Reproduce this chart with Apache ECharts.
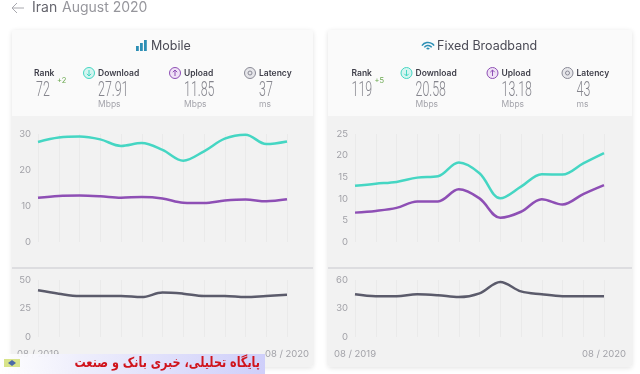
<!DOCTYPE html>
<html>
<head>
<meta charset="utf-8">
<style>html,body{margin:0;padding:0;background:#fff}#chart{width:640px;height:374px}</style>
<script src="https://cdn.jsdelivr.net/npm/echarts@6/dist/echarts.min.js"></script>
</head>
<body>
<div id="chart"></div>
<script>
// tick labels, only first and last month are printed
const months = ['08 / 2019','','','','','','','','','','','','08 / 2020'];

const mobileDownload = [27.8,29,29.3,28.5,26.7,27.5,25.6,22.6,25.2,28.7,29.8,27.2,27.91];
const mobileUpload = [12.3,12.8,12.9,12.7,12.3,12.5,12.1,10.9,10.8,11.5,11.8,11.3,11.85];
const mobileLatency = [41,38,36,36,36,35,39,38,36,36,35,36,37];

const fixedDownload = [13,13.5,13.9,14.9,15.2,18.4,15.9,10.1,12.8,15.7,15.6,18.2,20.58];
const fixedUpload = [6.8,7.2,7.9,9.4,9.4,12.2,10.1,5.6,7,9.9,8.7,11.1,13.18];
const fixedLatency = [45,43,43,45,44,42,46,58,48,45,43,43,43];

const mobileStats = ['72','27.91','11.85','37'];
const fixedStats = ['119','20.58','13.18','43'];
const statNames = ['Rank','Download','Upload','Latency'];
const statUnits = ['','Mbps','Mbps','ms'];

const TEAL = '#45d6c3', PURPLE = '#8e4fb5', SLATE = '#5b5b6b';
const FONT = 'Inter, Lato, sans-serif';

const myChart = echarts.init(document.getElementById('chart'));

function txt(x, y, text, size, fill, extra, props) {
    return Object.assign({ type: 'text', x: x, y: y, style: Object.assign({
        text: text, fontSize: size, fill: fill, fontFamily: FONT,
        textAlign: 'left', textVerticalAlign: 'middle'
    }, extra || {}) }, props || {});
}

function statIcon(x, y, color, kind) {
    const out = [{ type: 'circle', shape: { cx: x, cy: y, r: 5.5 },
        style: { fill: kind === 'down' ? '#d4f5f0' : kind === 'up' ? '#f0e2f6' : '#e6e6ea', stroke: color, lineWidth: 1 } }];
    if (kind === 'lat') {
        out.push({ type: 'circle', shape: { cx: x, cy: y, r: 2 }, style: { fill: 'none', stroke: color, lineWidth: 1 } });
    } else {
        const d = kind === 'down' ? 1 : -1;
        out.push({ type: 'polyline', shape: { points: [[x, y - 3 * d], [x, y + 3 * d]] }, style: { stroke: color, fill: 'none', lineWidth: 1 } });
        out.push({ type: 'polyline', shape: { points: [[x - 2.2, y + 0.8 * d], [x, y + 3 * d], [x + 2.2, y + 0.8 * d]] }, style: { stroke: color, fill: 'none', lineWidth: 1 } });
    }
    return out;
}

function panel(x0, width, title, stats, delta, isMobile) {
    const g = [];
    // card
    g.push({ type: 'rect', z: -10, shape: { x: x0, y: 30, width: width, height: 337, r: 3 },
        style: { fill: '#fafafa', shadowBlur: 5, shadowColor: 'rgba(0,0,0,0.12)', shadowOffsetY: 1 } });
    g.push({ type: 'rect', z: -9, shape: { x: x0, y: 116, width: width, height: 251, r: [0, 0, 3, 3] }, style: { fill: '#f2f2f2' } });
    g.push({ type: 'line', z: -8, shape: { x1: x0, y1: 268, x2: x0 + width, y2: 268 }, style: { stroke: '#c8c8ce', lineWidth: 1 } });

    // title with its little icon
    if (isMobile) {
        [[136, 5], [140, 8], [144, 11]].forEach(b => {
            g.push({ type: 'rect', shape: { x: b[0], y: 51 - b[1], width: 2.8, height: b[1] }, style: { fill: '#2d8fb5' } });
        });
        g.push(txt(151, 46, title, 12.5, '#4a4a55'));
    } else {
        const cx = 428;
        [7.5, 4.5, 1.5].forEach(r => {
            g.push({ type: 'arc', shape: { cx: cx, cy: 50, r: r, startAngle: -Math.PI * 0.8, endAngle: -Math.PI * 0.2 },
                style: { stroke: '#2d8fb5', fill: 'none', lineWidth: 1.5 } });
        });
        g.push(txt(437, 46, title, 12.5, '#4a4a55'));
    }

    // stats row
    const off = isMobile ? 0 : 317.5;
    const colX = [34, 98, 184, 259];
    const numX = [36, 98, 184, 259];
    const kinds = [null, 'down', 'up', 'lat'];
    const iconCol = [null, '#45d6c3', '#8e4fb5', '#8a8a96'];
    statNames.forEach((name, i) => {
        g.push(txt(off + colX[i], 73, name, 8.5, '#3f3f4a', { fontWeight: 600 }));
        if (kinds[i]) {
            statIcon(off + colX[i] - 9, 73, iconCol[i], kinds[i]).forEach(o => g.push(o));
        }
        g.push(txt(off + numX[i] - (isMobile || i ? 0 : 2), 91, stats[i], 20, '#85858d',
            { fontFamily: 'Roboto, sans-serif', fontWeight: 300 }, { scaleX: 0.62 }));
        if (statUnits[i]) {
            g.push(txt(off + numX[i], 104, statUnits[i], 8.5, '#a5a5ac'));
        }
    });
    g.push(txt(off + 57, 81, delta, 7.5, '#6aa84f'));
    return g;
}

function grid(left, top, height) {
    return { left: left, top: top, width: 249, height: height, containLabel: false };
}

function xAxis(gridIndex, showLabels) {
    return {
        type: 'category', gridIndex: gridIndex, data: months, boundaryGap: false,
        axisLine: { show: false }, axisTick: { show: false },
        splitLine: { show: true, lineStyle: { color: '#eaeaea', width: 1 } },
        axisLabel: { show: showLabels, interval: 0, color: '#a2a2a8', fontSize: 9.5, fontFamily: FONT, margin: 12, hideOverlap: false }
    };
}

function yAxis(gridIndex, max, interval) {
    return {
        type: 'value', gridIndex: gridIndex, min: 0, max: max, interval: interval,
        axisLine: { show: false }, axisTick: { show: false }, splitLine: { show: false },
        axisLabel: { color: '#a2a2a8', fontSize: 9.5, fontFamily: FONT, margin: 7 }
    };
}

function line(gridIndex, data, color) {
    return {
        type: 'line', xAxisIndex: gridIndex, yAxisIndex: gridIndex, data: data,
        smooth: 0.35, symbol: 'none', lineStyle: { color: color, width: 2.5 }, silent: true
    };
}

const headerAndWatermark = [
    { type: 'polyline', shape: { points: [[12, 8], [24, 8]] }, style: { stroke: '#a8a8ae', fill: 'none', lineWidth: 1 } },
    { type: 'polyline', shape: { points: [[17, 3], [12, 8], [17, 13]] }, style: { stroke: '#a8a8ae', fill: 'none', lineWidth: 1 } },
    txt(32, 8, 'Iran', 14, '#66666e'),
    txt(62, 8, 'August 2020', 14, '#96969c'),
    // watermark band along the bottom
    { type: 'rect', z: 20, shape: { x: 0, y: 354, width: 265, height: 20 },
        style: { fill: new echarts.graphic.LinearGradient(0, 0, 1, 0, [
            { offset: 0, color: 'rgba(255,255,255,0.9)' }, { offset: 0.3, color: '#eeeefc' }, { offset: 1, color: '#cfcffa' }
        ]) } },
    { type: 'rect', z: 21, shape: { x: 4, y: 359, width: 16, height: 8 }, style: { fill: '#d8e48a' } },
    { type: 'polygon', z: 22, shape: { points: [[8, 363], [12, 360], [16, 363], [12, 366]] }, style: { fill: '#4a6aa8' } },
    { type: 'text', z: 22, x: 260, y: 363.5, scaleX: 0.8, style: {
        text: 'پایگاه تحلیلی، خبری بانک و صنعت', fontSize: 14, fontWeight: 'bold', fill: '#d0141c',
        fontFamily: '"DejaVu Sans", sans-serif', textAlign: 'right', textVerticalAlign: 'middle'
    } }
];

myChart.setOption({
    animation: false,
    graphic: { elements: [].concat(
        panel(12, 301, 'Mobile', mobileStats, '+2', true),
        panel(328, 304, 'Fixed Broadband', fixedStats, '+5', false),
        headerAndWatermark
    ) },
    grid: [grid(38, 134, 108), grid(38, 280, 57), grid(355, 134, 108), grid(355, 280, 57)],
    xAxis: [xAxis(0, false), xAxis(1, true), xAxis(2, false), xAxis(3, true)],
    yAxis: [yAxis(0, 30, 10), yAxis(1, 50, 25), yAxis(2, 25, 5), yAxis(3, 60, 30)],
    series: [
        line(0, mobileDownload, TEAL),
        line(0, mobileUpload, PURPLE),
        line(1, mobileLatency, SLATE),
        line(2, fixedDownload, TEAL),
        line(2, fixedUpload, PURPLE),
        line(3, fixedLatency, SLATE)
    ]
});
</script>
</body>
</html>
